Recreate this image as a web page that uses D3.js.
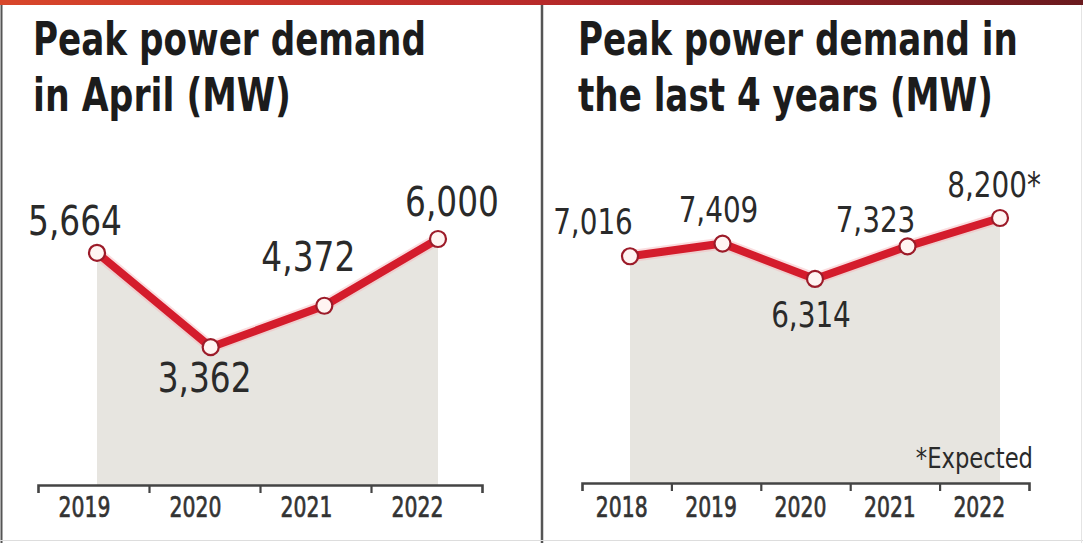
<!DOCTYPE html>
<html><head><meta charset="utf-8">
<script src="https://cdn.jsdelivr.net/npm/d3@7"></script>
<style>
html,body{margin:0;padding:0;background:#fff;}
svg{display:block;}
</style></head><body>
<svg id="chart" width="1083" height="543"></svg>
<script>
// ---- data ----
const aprilYears = ["2019","2020","2021","2022"];
const aprilValues = [5664, 3362, 4372, 6000];
const aprilLabels = ["5,664","3,362","4,372","6,000"];

const recentYears = ["2018","2019","2020","2021","2022"];
const recentValues = [7016, 7409, 6314, 7323, 8200];
const recentLabels = ["7,016","7,409","6,314","7,323","8,200*"];

const leftTitle = ["Peak power demand", "in April (MW)"];
const rightTitle = ["Peak power demand in", "the last 4 years (MW)"];
const footnote = "*Expected";

// ---- drawing ----
const svg = d3.select("#chart");
const FONT = "'Liberation Sans Narrow','DejaVu Sans Condensed','Roboto Condensed','Arial Narrow',sans-serif";

// horizontally condense text (narrow newspaper face)
function squeeze(sel, f) {
  sel.each(function() {
    const w = this.getComputedTextLength();
    d3.select(this).attr("textLength", w * f).attr("lengthAdjust", "spacingAndGlyphs");
  });
}

const defs = svg.append("defs");
const g = defs.append("linearGradient").attr("id","band").attr("x1","0").attr("x2","1");
[[0,"#d8472b"],[0.25,"#c9352b"],[0.5,"#b82a2a"],[0.75,"#8e2024"],[1,"#6a1a1e"]]
  .forEach(([o,c]) => g.append("stop").attr("offset",o).attr("stop-color",c));

svg.append("rect").attr("x",0).attr("y",0).attr("width",1083).attr("height",543).attr("fill","#fff");
svg.append("rect").attr("x",0).attr("y",0).attr("width",1083).attr("height",5).attr("fill","url(#band)");

// frame
svg.append("line").attr("x1",1.5).attr("x2",1.5).attr("y1",5).attr("y2",543).attr("stroke","#555").attr("stroke-width",2);
svg.append("line").attr("x1",542).attr("x2",542).attr("y1",5).attr("y2",543).attr("stroke","#555").attr("stroke-width",2.5);
svg.append("line").attr("x1",0).attr("x2",1083).attr("y1",540.5).attr("y2",540.5).attr("stroke","#ddd").attr("stroke-width",1);
svg.append("line").attr("x1",1081.5).attr("x2",1081.5).attr("y1",5).attr("y2",543).attr("stroke","#e4e4e4").attr("stroke-width",1);

const panels = [
  {
    years: aprilYears, values: aprilValues, labels: aprilLabels, title: leftTitle,
    titleX: 33, titleW: [393, 258],
    axisX: [38, 482], axisY: 485, pointX: [97, 438],
    yMax: 6000, yTop: 239, labelSize: 41, labelSqueeze: 0.89, yearDx: -9,
    offsets: [[-22,-18],[-6,45],[-16,-35],[14,-23]]
  },
  {
    years: recentYears, values: recentValues, labels: recentLabels, title: rightTitle,
    titleX: 578, titleW: [440, 415],
    axisX: [582, 1029], axisY: 483, pointX: [630, 1000],
    yMax: 8200, yTop: 218, labelSize: 36, labelSqueeze: 0.86, yearDx: -5,
    offsets: [[-37,-22],[-4,-22],[-4,48],[-32,-14],[-6,-21]]
  }
];

panels.forEach(p => {
  const n = p.years.length;
  const gp = svg.append("g");

  // titles (condensed via horizontal scale)
  p.title.forEach((t, i) => {
    const tg = gp.append("g");
    const tx = tg.append("text")
      .attr("x", 0).attr("y", 0)
      .attr("font-family", FONT).attr("font-weight", "bold").attr("font-size", 47)
      .attr("fill", "#1c1c1c")
      .text(t);
    const w = tx.node().getComputedTextLength();
    tg.attr("transform", `translate(${p.titleX},${55 + i * 56}) scale(${p.titleW[i] / w},1)`);
  });

  const x = d3.scalePoint().domain(p.years).range(p.pointX);
  const y = d3.scaleLinear().domain([0, p.yMax]).range([p.axisY, p.yTop]);
  const band = d3.scaleBand().domain(p.years).range(p.axisX);
  const tickScale = d3.scaleLinear().domain([0, n]).range(p.axisX);

  const data = p.years.map((yr, i) => ({yr, v: p.values[i], lab: p.labels[i], off: p.offsets[i]}));

  // area
  gp.append("path").datum(data)
    .attr("fill", "#e7e5e0")
    .attr("d", d3.area().x(d => x(d.yr)).y0(p.axisY).y1(d => y(d.v)));

  // axis
  const ax = gp.append("g").attr("transform", `translate(0,${p.axisY})`)
    .call(d3.axisBottom(tickScale).tickValues(d3.range(1, n)).tickSize(8).tickSizeOuter(8).tickFormat(""));
  ax.select(".domain").attr("stroke", "#444").attr("stroke-width", 2.6).attr("fill", "none");
  ax.selectAll(".tick line").attr("stroke", "#444").attr("stroke-width", 2.2);

  // year labels
  const yl = gp.selectAll("text.year").data(p.years).join("text")
    .attr("class", "year")
    .attr("x", d => band(d) + band.bandwidth() / 2 + p.yearDx)
    .attr("y", 517)
    .attr("text-anchor", "middle")
    .attr("font-family", FONT).attr("font-size", 29)
    .attr("fill", "#333").attr("stroke", "#333").attr("stroke-width", 0.7)
    .text(d => d);
  squeeze(yl, 0.78);

  // line
  const line = d3.line().x(d => x(d.yr)).y(d => y(d.v));
  gp.append("path").datum(data).attr("fill", "none").attr("stroke", "#f3b3b8")
    .attr("stroke-width", 12).attr("stroke-linejoin", "round").attr("opacity", 0.45).attr("d", line);
  gp.append("path").datum(data).attr("fill", "none").attr("stroke", "#d41c2c")
    .attr("stroke-width", 8).attr("stroke-linejoin", "round").attr("d", line);

  // markers
  gp.selectAll("circle.pt").data(data).join("circle")
    .attr("class", "pt")
    .attr("cx", d => x(d.yr)).attr("cy", d => y(d.v)).attr("r", 8)
    .attr("fill", "#fff4f2").attr("stroke", "#9c1b29").attr("stroke-width", 2.2);

  // value labels
  const vl = gp.selectAll("text.val").data(data).join("text")
    .attr("class", "val")
    .attr("x", d => x(d.yr) + d.off[0]).attr("y", d => y(d.v) + d.off[1])
    .attr("text-anchor", "middle")
    .attr("font-family", FONT).attr("font-size", p.labelSize)
    .attr("fill", "#2a2a2a")
    .text(d => d.lab);
  squeeze(vl, p.labelSqueeze);
});

// footnote
const fn = svg.append("text").attr("x", 1033).attr("y", 468).attr("text-anchor", "end")
  .attr("font-family", FONT).attr("font-size", 28).attr("fill", "#2a2a2a")
  .text(footnote);
squeeze(fn, 0.9);
</script>
</body></html>
